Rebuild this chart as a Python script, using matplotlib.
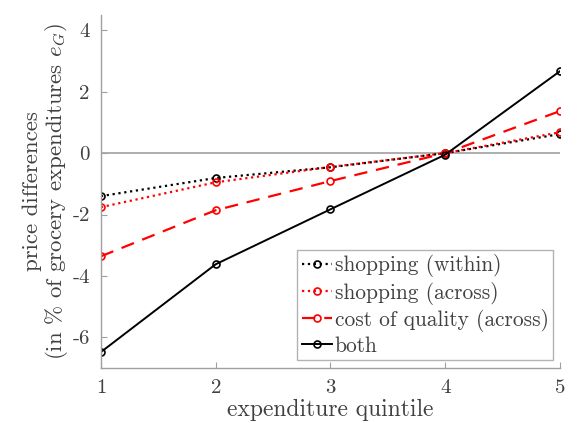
import numpy as np
import matplotlib
matplotlib.use('Agg')
import matplotlib.pyplot as plt

plt.rcParams['font.family'] = 'serif'
plt.rcParams['font.serif'] = ['cmr10']
plt.rcParams['mathtext.fontset'] = 'cm'
plt.rcParams['axes.unicode_minus'] = False
plt.rcParams['axes.formatter.use_mathtext'] = False

# Data
quintiles = [1, 2, 3, 4, 5]
shop_within = [-1.40, -0.81, -0.46, 0.00, 0.62]
shop_across = [-1.76, -0.95, -0.45, 0.00, 0.68]
quality_across = [-3.36, -1.86, -0.91, 0.00, 1.37]
both = [-6.48, -3.62, -1.83, -0.05, 2.67]
labels = ['shopping (within)', 'shopping (across)',
          'cost of quality (across)', 'both']

axis_grey = '#a0a0a0'
text_grey = '#404040'

fig = plt.figure(figsize=(5.8, 4.23), dpi=100)
ax = fig.add_axes([0.174, 0.13, 0.7915, 0.8345])

ax.plot([quintiles[0], quintiles[-1]], [0, 0], color=axis_grey, linewidth=1.2)

mk = dict(marker='o', markersize=5, markerfacecolor='none', markeredgewidth=1.2)
ax.plot(quintiles, shop_within, color='black', linestyle=':', linewidth=1.6,
        label=labels[0], **mk)
ax.plot(quintiles, shop_across, color='red', linestyle=':', linewidth=1.6,
        label=labels[1], **mk)
ax.plot(quintiles, quality_across, color='red', linestyle=(0, (6, 4)), linewidth=1.6,
        label=labels[2], **mk)
ax.plot(quintiles, both, color='black', linestyle='-', linewidth=1.4,
        label=labels[3], **mk)

ax.set_xlim(1, 5)
ax.set_ylim(-7, 4.5)
ax.set_xticks(quintiles)
ax.set_yticks([-6, -4, -2, 0, 2, 4])

for side in ['top', 'right']:
    ax.spines[side].set_visible(False)
for side in ['left', 'bottom']:
    ax.spines[side].set_color(axis_grey)
    ax.spines[side].set_linewidth(1.0)
ax.tick_params(direction='in', length=4, color=axis_grey, labelcolor=text_grey,
               labelsize=15, pad=8)

ax.set_xlabel('expenditure quintile', fontsize=17, color=text_grey, labelpad=1)
ax.set_ylabel('price differences\n(in % of grocery expenditures $e_G$)',
              fontsize=16.5, color=text_grey, labelpad=2, linespacing=1.05)

leg = ax.legend(loc='lower right', fontsize=15.4, handlelength=1.4, handletextpad=0.15,
                borderpad=0.2, labelspacing=0.2, fancybox=False, borderaxespad=0,
                bbox_to_anchor=(0.985, 0.023))
leg.get_frame().set_edgecolor(axis_grey)
leg.get_frame().set_linewidth(1.0)
for t in leg.get_texts():
    t.set_color(text_grey)

fig.savefig('out.png', dpi=100)
